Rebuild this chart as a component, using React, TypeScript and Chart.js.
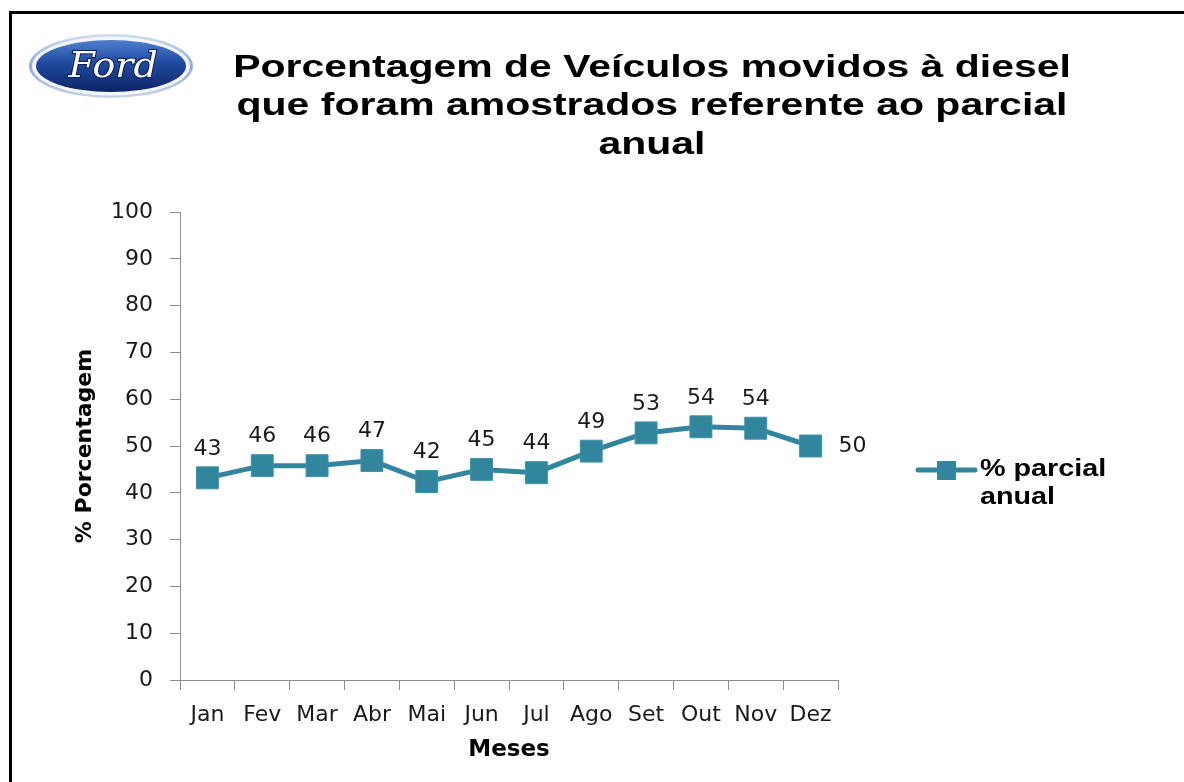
import React, { useEffect, useRef } from 'react';
import { Chart, registerables } from 'chart.js';

Chart.register(...registerables);

const months = ['Jan', 'Fev', 'Mar', 'Abr', 'Mai', 'Jun', 'Jul', 'Ago', 'Set', 'Out', 'Nov', 'Dez'];
const dieselPct = [43.2, 45.8, 45.8, 46.9, 42.4, 45.0, 44.3, 48.9, 52.8, 54.1, 53.8, 50.0];
const yMin = 0;
const yMax = 100;
const yStep = 10;
const titleLines = [
  'Porcentagem de Veículos movidos à diesel',
  'que foram amostrados referente ao parcial',
  'anual',
];
const seriesName = '% parcial anual';
const legendLines = ['% parcial', 'anual'];
const yTitle = '% Porcentagem';
const xTitle = 'Meses';

const TEAL = '#31859C';

const framePlugin = {
  id: 'frame',
  beforeDraw(chart: any) {
    const ctx = chart.ctx;
    ctx.save();
    ctx.fillStyle = '#ffffff';
    ctx.fillRect(0, 0, chart.width, chart.height);
    ctx.strokeStyle = '#000000';
    ctx.lineWidth = 3;
    ctx.beginPath();
    ctx.moveTo(10.5, chart.height);
    ctx.lineTo(10.5, 12.5);
    ctx.lineTo(chart.width, 12.5);
    ctx.stroke();
    ctx.restore();
  },
};

const logoPlugin = {
  id: 'logo',
  afterDraw(chart: any) {
    const ctx = chart.ctx;
    const cx = 111;
    const cy = 66;
    ctx.save();
    ctx.beginPath();
    ctx.ellipse(cx, cy, 82, 32, 0, 0, Math.PI * 2);
    const g0 = ctx.createLinearGradient(0, cy - 32, 0, cy + 32);
    g0.addColorStop(0, '#cfdcf2');
    g0.addColorStop(0.5, '#8fa9d8');
    g0.addColorStop(1, '#c7d3ea');
    ctx.fillStyle = g0;
    ctx.fill();
    ctx.beginPath();
    ctx.ellipse(cx, cy, 79, 29.5, 0, 0, Math.PI * 2);
    ctx.fillStyle = '#f4f6fb';
    ctx.fill();
    ctx.beginPath();
    ctx.ellipse(cx, cy, 75, 26, 0, 0, Math.PI * 2);
    const g1 = ctx.createLinearGradient(0, cy - 26, 0, cy + 26);
    g1.addColorStop(0, '#4f7fd0');
    g1.addColorStop(0.45, '#1f4a9e');
    g1.addColorStop(1, '#0c2466');
    ctx.fillStyle = g1;
    ctx.fill();
    ctx.font = 'italic 36px "DejaVu Serif"';
    ctx.textAlign = 'center';
    ctx.textBaseline = 'middle';
    ctx.lineWidth = 2;
    ctx.strokeStyle = '#0a1d55';
    ctx.translate(cx + 2, cy + 2);
    ctx.scale(1.05, 1);
    ctx.strokeText('Ford', 0, 0);
    ctx.fillStyle = '#ffffff';
    ctx.fillText('Ford', 0, 0);
    ctx.restore();
  },
};

const titlePlugin = {
  id: 'bigTitle',
  afterDraw(chart: any) {
    const ctx = chart.ctx;
    ctx.save();
    ctx.fillStyle = '#000000';
    ctx.font = 'bold 32px "Liberation Sans"';
    ctx.textAlign = 'center';
    ctx.textBaseline = 'middle';
    const cx = 652;
    titleLines.forEach((line, i) => {
      ctx.save();
      ctx.translate(cx, 68 + i * 38.5);
      ctx.scale(1.28, 1);
      ctx.fillText(line, 0, 0);
      ctx.restore();
    });
    ctx.restore();
  },
};

const valueLabelPlugin = {
  id: 'valueLabels',
  afterDatasetsDraw(chart: any) {
    const ctx = chart.ctx;
    const meta = chart.getDatasetMeta(0);
    const data = chart.data.datasets[0].data as number[];
    ctx.save();
    ctx.fillStyle = '#1a1a1a';
    ctx.font = '22px "DejaVu Sans"';
    ctx.textBaseline = 'middle';
    meta.data.forEach((pt: any, i: number) => {
      const txt = String(Math.round(data[i]));
      if (i === data.length - 1) {
        ctx.textAlign = 'left';
        ctx.fillText(txt, pt.x + 28, pt.y);
      } else {
        ctx.textAlign = 'center';
        ctx.fillText(txt, pt.x, pt.y - 29);
      }
    });
    ctx.restore();
  },
};

const legendPlugin = {
  id: 'sideLegend',
  afterDraw(chart: any) {
    const ctx = chart.ctx;
    const y = 470;
    ctx.save();
    ctx.strokeStyle = TEAL;
    ctx.lineWidth = 5;
    ctx.lineCap = 'round';
    ctx.beginPath();
    ctx.moveTo(918, y);
    ctx.lineTo(975, y);
    ctx.stroke();
    ctx.fillStyle = TEAL;
    ctx.fillRect(937, y - 9, 19, 19);
    ctx.fillStyle = '#000000';
    ctx.font = 'bold 23px "Liberation Sans"';
    ctx.textAlign = 'left';
    ctx.textBaseline = 'middle';
    legendLines.forEach((line, i) => {
      ctx.save();
      ctx.translate(980, y + i * 28);
      ctx.scale(1.25, 1);
      ctx.fillText(line, 0, 0);
      ctx.restore();
    });
    ctx.restore();
  },
};

export default function App() {
  const ref = useRef<HTMLCanvasElement>(null);

  useEffect(() => {
    if (!ref.current) return;
    const chart = new Chart(ref.current, {
      type: 'line',
      data: {
        labels: months,
        datasets: [
          {
            label: seriesName,
            data: dieselPct,
            borderColor: TEAL,
            backgroundColor: TEAL,
            borderWidth: 5,
            pointStyle: 'rect',
            pointRadius: 15.5,
            pointHoverRadius: 15.5,
            pointBackgroundColor: TEAL,
            pointBorderColor: '#3a93ab',
            pointBorderWidth: 1,
            tension: 0,
            fill: false,
          },
        ],
      },
      options: {
        responsive: false,
        animation: false,
        devicePixelRatio: 1,
        layout: { padding: { left: 10, top: 212, right: 346, bottom: 0 } },
        plugins: {
          legend: { display: false },
          title: { display: false },
          tooltip: { enabled: false },
        },
        scales: {
          x: {
            type: 'category',
            offset: true,
            grid: {
              display: true,
              offset: true,
              drawOnChartArea: false,
              drawTicks: true,
              tickLength: 10,
              color: '#8c8c8c',
            },
            border: { display: true, color: '#8c8c8c', width: 1 },
            ticks: {
              color: '#1a1a1a',
              font: { family: '"DejaVu Sans"', size: 22 },
              maxRotation: 0,
              minRotation: 0,
              autoSkip: false,
              padding: 12,
            },
            title: {
              display: true,
              text: xTitle,
              color: '#000000',
              font: { family: '"DejaVu Sans"', size: 23, weight: 'bold' },
              padding: { top: 0, bottom: 18 },
            },
            afterFit: (scale: any) => {
              scale.height = 102;
            },
          },
          y: {
            min: yMin,
            max: yMax,
            grid: {
              display: true,
              drawOnChartArea: false,
              drawTicks: true,
              tickLength: 10,
              color: '#8c8c8c',
            },
            border: { display: true, color: '#8c8c8c', width: 1 },
            ticks: {
              stepSize: yStep,
              color: '#1a1a1a',
              font: { family: '"DejaVu Sans"', size: 22 },
              padding: 17,
            },
            title: {
              display: true,
              text: yTitle,
              color: '#000000',
              font: { family: '"DejaVu Sans"', size: 22, weight: 'bold' },
              padding: { top: 62, bottom: 0 },
            },
            afterFit: (scale: any) => {
              scale.width = 170;
            },
          },
        },
      },
      plugins: [framePlugin, logoPlugin, titlePlugin, valueLabelPlugin, legendPlugin],
    });
    return () => chart.destroy();
  }, []);

  return (
    <div style={{ position: 'fixed', left: 0, top: 0, width: 1184, height: 782, background: '#ffffff' }}>
      <canvas ref={ref} width={1184} height={782} style={{ display: 'block', width: 1184, height: 782 }} />
    </div>
  );
}
